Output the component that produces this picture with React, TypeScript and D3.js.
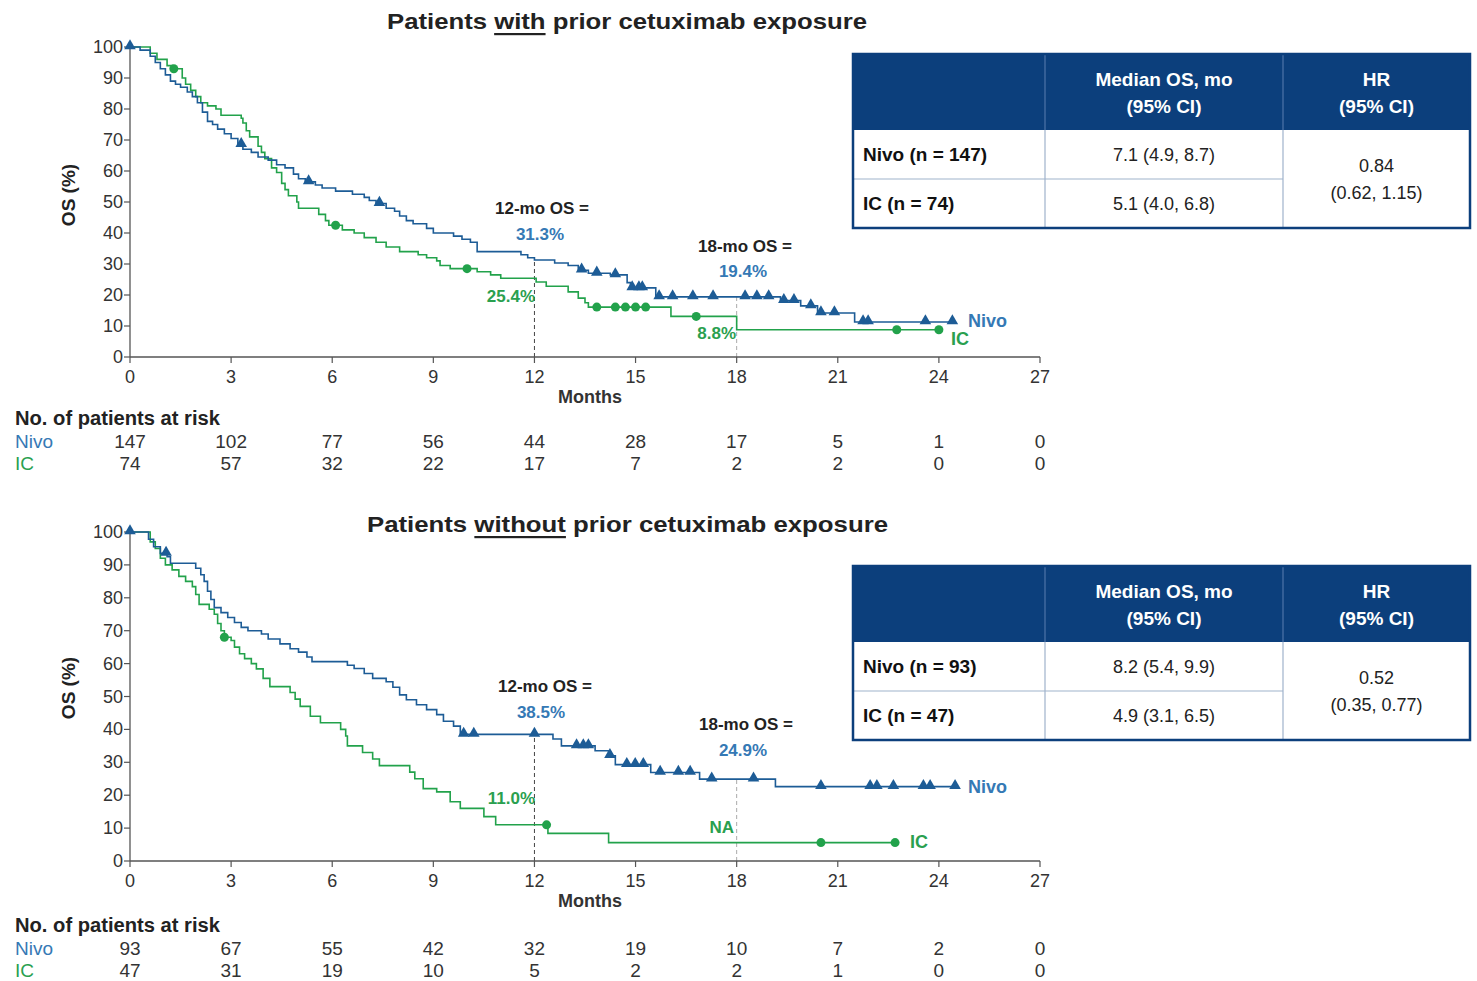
import React from "react";
import * as d3 from "d3";

// ---------------- DATA ----------------
const monthTicks = [0, 3, 6, 9, 12, 15, 18, 21, 24, 27];
const yTicks = [0, 10, 20, 30, 40, 50, 60, 70, 80, 90, 100];

// Top panel: with prior cetuximab
const topNivoSteps: [number, number][] = [
  [0, 100], [0.3, 99], [0.6, 97], [0.75, 95], [0.9, 93], [1.05, 91], [1.2, 89], [1.35, 88], [1.5, 87],
  [1.7, 85.5], [1.85, 84], [2.0, 82], [2.15, 79], [2.3, 76], [2.45, 75], [2.6, 73.5], [2.8, 72], [3.0, 70.5],
  [3.2, 68.5], [3.35, 67], [3.6, 66], [3.8, 64.5], [4.1, 63.5], [4.35, 62], [4.6, 61], [4.85, 59], [5.0, 57.5],
  [5.2, 56.5], [5.5, 55.5], [5.7, 54.5], [6.1, 53.5], [6.6, 52.5], [6.95, 51.5], [7.1, 50.5], [7.3, 49.5],
  [7.6, 48], [7.85, 47], [8.0, 45.5], [8.2, 44], [8.4, 43], [8.8, 41.5], [9.0, 40], [9.6, 39], [9.85, 38],
  [10.1, 37], [10.3, 34], [11.6, 33], [11.8, 32], [12.0, 31.3], [12.6, 30.3], [13.0, 29.5], [13.3, 28],
  [13.6, 27], [14.25, 26.5], [14.75, 24], [14.85, 22.3], [15.6, 19.4], [19.3, 18.2], [19.9, 16.5],
  [20.4, 14.2], [21.5, 11.3],
];
const topNivoEnd = 24.4;
const topNivoCensor = [0, 3.3, 5.3, 7.4, 13.4, 13.85, 14.4, 14.9, 15.1, 15.2, 15.7, 16.1, 16.7, 17.3, 18.25,
  18.6, 18.95, 19.4, 19.7, 20.2, 20.5, 20.9, 21.75, 21.9, 23.6, 24.4];

const topICSteps: [number, number][] = [
  [0, 100], [0.6, 98], [0.8, 96], [1.1, 94], [1.25, 93], [1.55, 90], [1.65, 88], [1.8, 86], [1.95, 84],
  [2.1, 82], [2.3, 81], [2.55, 80], [2.7, 78], [3.3, 77], [3.35, 75.5], [3.45, 73], [3.55, 71], [3.8, 68],
  [3.9, 66], [4.0, 64], [4.2, 61], [4.35, 59.5], [4.5, 56], [4.6, 54], [4.7, 52], [4.95, 50], [5.0, 48],
  [5.6, 46], [5.8, 44], [5.9, 42.5], [6.3, 41], [6.65, 40], [6.95, 38.5], [7.3, 37], [7.6, 35.5], [8.0, 34],
  [8.55, 33], [8.8, 32], [9.1, 31], [9.2, 29.5], [9.5, 28.5], [10.3, 27.5], [10.7, 26.5], [11.0, 25.4],
  [12.05, 24.2], [12.35, 22.8], [13.0, 21], [13.3, 19], [13.5, 17.5], [13.6, 16.1], [16.05, 13.1], [18.0, 8.8],
];
const topICEnd = 24.0;
const topICCensor = [1.3, 6.1, 10.0, 13.85, 14.4, 14.7, 15.0, 15.3, 16.8, 22.75, 24.0];

// Bottom panel: without prior cetuximab
const botNivoSteps: [number, number][] = [
  [0, 100], [0.55, 97.8], [0.7, 95.5], [0.9, 93.5], [1.1, 92.5], [1.2, 90.5], [1.95, 89], [2.1, 87],
  [2.2, 85], [2.3, 82], [2.4, 79.5], [2.5, 77], [2.7, 75.5], [2.9, 74], [3.1, 72.5], [3.3, 71], [3.5, 70],
  [3.9, 69], [4.1, 67.5], [4.45, 66], [4.75, 64.5], [5.0, 63.5], [5.25, 62], [5.4, 60.6], [6.45, 59.5],
  [6.65, 58.5], [6.95, 57], [7.2, 55.5], [7.6, 54.5], [7.8, 52.8], [8.0, 50.5], [8.2, 49], [8.5, 47.5],
  [8.8, 46], [9.1, 44.5], [9.3, 42.5], [9.6, 41], [9.8, 38.5], [12.55, 37.1], [12.8, 35], [13.8, 33.5],
  [14.2, 32], [14.4, 29.3], [15.45, 26.9], [16.9, 24.9], [19.15, 22.6],
];
const botNivoEnd = 24.5;
const botNivoCensor = [0, 1.07, 9.9, 10.2, 12.0, 13.25, 13.45, 13.6, 14.24, 14.74, 14.99, 15.23, 15.73,
  16.27, 16.62, 17.26, 18.5, 20.5, 21.96, 22.16, 22.65, 23.54, 23.74, 24.48];

const botICSteps: [number, number][] = [
  [0, 100], [0.6, 97], [0.75, 95], [0.9, 92], [1.05, 90], [1.25, 88.5], [1.45, 86.5], [1.65, 85],
  [1.85, 83.4], [1.95, 81], [2.05, 78], [2.35, 76.5], [2.5, 75], [2.6, 72.2], [2.7, 70], [2.8, 68],
  [3.0, 67], [3.1, 65], [3.25, 63], [3.4, 61.5], [3.6, 60], [3.75, 58.4], [3.95, 55.5], [4.15, 53],
  [4.75, 51.2], [4.9, 49.2], [5.05, 47], [5.35, 44], [5.65, 42], [6.25, 40], [6.4, 38], [6.45, 35],
  [6.9, 33], [7.2, 31], [7.4, 29], [8.3, 27], [8.45, 25], [8.7, 22], [9.1, 21], [9.5, 18], [9.8, 16],
  [10.5, 13.5], [10.85, 11.0], [12.4, 8.4], [14.2, 5.6],
];
const botICEnd = 22.7;
const botICCensor = [2.8, 12.36, 20.5, 22.7];

// Risk tables
const riskTopNivo = [147, 102, 77, 56, 44, 28, 17, 5, 1, 0];
const riskTopIC = [74, 57, 32, 22, 17, 7, 2, 2, 0, 0];
const riskBotNivo = [93, 67, 55, 42, 32, 19, 10, 7, 2, 0];
const riskBotIC = [47, 31, 19, 10, 5, 2, 2, 1, 0, 0];

// Summary tables
const tableHeader = [["", ""], ["Median OS, mo", "(95% CI)"], ["HR", "(95% CI)"]];
const topTableRows = [["Nivo (n = 147)", "7.1 (4.9, 8.7)"], ["IC (n = 74)", "5.1 (4.0, 6.8)"]];
const topHR = ["0.84", "(0.62, 1.15)"];
const botTableRows = [["Nivo (n = 93)", "8.2 (5.4, 9.9)"], ["IC (n = 47)", "4.9 (3.1, 6.5)"]];
const botHR = ["0.52", "(0.35, 0.77)"];

// Landmark annotations
const topLandmarks = { os12Nivo: "31.3%", os12IC: "25.4%", os18Nivo: "19.4%", os18IC: "8.8%" };
const botLandmarks = { os12Nivo: "38.5%", os12IC: "11.0%", os18Nivo: "24.9%", os18IC: "NA" };

// ---------------- STYLE ----------------
const NAVY = "#0c3f7c";
const BLUE_LINE = "#1d5c96";
const BLUE_TXT = "#3579b5";
const GREEN_LINE = "#22a24b";
const GREEN_TXT = "#2aa04f";
const AXIS = "#555";
const FONT = "'Liberation Sans', Arial, sans-serif";

function valueAt(steps: [number, number][], t: number) {
  let v = steps[0][1];
  for (const [st, sv] of steps) if (st <= t + 1e-9) v = sv;
  return v;
}

type PanelProps = {
  top: number; bottom: number; yLabelY: number;
  nivo: [number, number][]; nivoEnd: number; nivoCensor: number[];
  ic: [number, number][]; icEnd: number; icCensor: number[];
  lm: { os12Nivo: string; os12IC: string; os18Nivo: string; os18IC: string };
  labels: { l12: [number, number]; n12: [number, number]; ic12: [number, number]; l18: [number, number]; n18: [number, number]; ic18: [number, number]; nivoLab: [number, number]; icLab: [number, number] };
  riskNivo: number[]; riskIC: number[]; riskY: number;
};

function Panel(p: PanelProps) {
  const x = d3.scaleLinear().domain([0, 27]).range([130, 1040]);
  const y = d3.scaleLinear().domain([0, 100]).range([p.bottom, p.top]);
  const line = d3.line<[number, number]>().x(d => x(d[0])).y(d => y(d[1])).curve(d3.curveStepAfter);
  const nivoPts: [number, number][] = [...p.nivo, [p.nivoEnd, p.nivo[p.nivo.length - 1][1]]];
  const icPts: [number, number][] = [...p.ic, [p.icEnd, p.ic[p.ic.length - 1][1]]];
  const tri = d3.symbol().type(d3.symbolTriangle).size(58)();
  const y12 = y(valueAt(p.nivo, 12));
  const y18 = y(valueAt(p.nivo, 18));
  const L = p.labels;
  return (
    <g>
      <line x1={x(12)} x2={x(12)} y1={p.bottom} y2={y12} stroke="#444" strokeDasharray="4,3" strokeWidth={1} />
      <line x1={x(18)} x2={x(18)} y1={p.bottom} y2={y18} stroke="#aaa" strokeDasharray="4,3" strokeWidth={1} />
      <line x1={x(0)} x2={x(27)} y1={p.bottom} y2={p.bottom} stroke={AXIS} strokeWidth={1.3} />
      <line x1={x(0)} x2={x(0)} y1={p.bottom} y2={p.top} stroke={AXIS} strokeWidth={1.3} />
      {monthTicks.map(t => (
        <g key={"xt" + t}>
          <line x1={x(t)} x2={x(t)} y1={p.bottom} y2={p.bottom + 6} stroke={AXIS} strokeWidth={1.2} />
          <text x={x(t)} y={p.bottom + 20} textAnchor="middle" dominantBaseline="central" fontSize={18} fill="#333" fontFamily={FONT}>{t}</text>
        </g>
      ))}
      {yTicks.map(t => (
        <g key={"yt" + t}>
          <line x1={x(0) - 6} x2={x(0)} y1={y(t)} y2={y(t)} stroke={AXIS} strokeWidth={1.2} />
          <text x={x(0) - 7} y={y(t)} textAnchor="end" dominantBaseline="central" fontSize={18} fill="#333" fontFamily={FONT}>{t}</text>
        </g>
      ))}
      <text x={590} y={p.bottom + 40} textAnchor="middle" dominantBaseline="central" fontSize={18} fontWeight="bold" fill="#333" fontFamily={FONT}>Months</text>
      <text transform={`translate(68,${p.yLabelY}) rotate(-90)`} textAnchor="middle" dominantBaseline="central" fontSize={19} fontWeight="bold" fill="#222" fontFamily={FONT}>OS (%)</text>
      <path d={line(icPts) || ""} fill="none" stroke={GREEN_LINE} strokeWidth={1.6} />
      <path d={line(nivoPts) || ""} fill="none" stroke={BLUE_LINE} strokeWidth={1.6} />
      {p.icCensor.map((t, i) => (
        <circle key={"ic" + i} cx={x(t)} cy={y(valueAt(p.ic, t))} r={4.5} fill={GREEN_LINE} />
      ))}
      {p.nivoCensor.map((t, i) => (
        <path key={"nv" + i} d={tri || ""} transform={`translate(${x(t)},${y(valueAt(p.nivo, t)) - 1})`} fill={BLUE_LINE} />
      ))}
      <text x={L.l12[0]} y={L.l12[1]} textAnchor="middle" dominantBaseline="central" fontSize={17} fontWeight="bold" fill="#222" fontFamily={FONT}>12-mo OS =</text>
      <text x={L.n12[0]} y={L.n12[1]} textAnchor="middle" dominantBaseline="central" fontSize={17} fontWeight="bold" fill={BLUE_TXT} fontFamily={FONT}>{p.lm.os12Nivo}</text>
      <text x={L.ic12[0]} y={L.ic12[1]} textAnchor="end" dominantBaseline="central" fontSize={17} fontWeight="bold" fill={GREEN_TXT} fontFamily={FONT}>{p.lm.os12IC}</text>
      <text x={L.l18[0]} y={L.l18[1]} textAnchor="middle" dominantBaseline="central" fontSize={17} fontWeight="bold" fill="#222" fontFamily={FONT}>18-mo OS =</text>
      <text x={L.n18[0]} y={L.n18[1]} textAnchor="middle" dominantBaseline="central" fontSize={17} fontWeight="bold" fill={BLUE_TXT} fontFamily={FONT}>{p.lm.os18Nivo}</text>
      <text x={L.ic18[0]} y={L.ic18[1]} textAnchor="end" dominantBaseline="central" fontSize={17} fontWeight="bold" fill={GREEN_TXT} fontFamily={FONT}>{p.lm.os18IC}</text>
      <text x={L.nivoLab[0]} y={L.nivoLab[1]} dominantBaseline="central" fontSize={18} fontWeight="bold" fill={BLUE_TXT} fontFamily={FONT}>Nivo</text>
      <text x={L.icLab[0]} y={L.icLab[1]} dominantBaseline="central" fontSize={18} fontWeight="bold" fill={GREEN_TXT} fontFamily={FONT}>IC</text>
      <text x={15} y={p.riskY} dominantBaseline="central" fontSize={20} fontWeight="bold" fill="#222" fontFamily={FONT} textLength={205} lengthAdjust="spacingAndGlyphs">No. of patients at risk</text>
      <text x={15} y={p.riskY + 23} dominantBaseline="central" fontSize={19} fill={BLUE_TXT} fontFamily={FONT}>Nivo</text>
      <text x={15} y={p.riskY + 45} dominantBaseline="central" fontSize={19} fill={GREEN_TXT} fontFamily={FONT}>IC</text>
      {monthTicks.map((t, i) => (
        <g key={"rk" + t}>
          <text x={x(t)} y={p.riskY + 23} textAnchor="middle" dominantBaseline="central" fontSize={19} fill="#333" fontFamily={FONT}>{p.riskNivo[i]}</text>
          <text x={x(t)} y={p.riskY + 45} textAnchor="middle" dominantBaseline="central" fontSize={19} fill="#333" fontFamily={FONT}>{p.riskIC[i]}</text>
        </g>
      ))}
    </g>
  );
}

function SummaryTable({ top, rows, hr }: { top: number; rows: string[][]; hr: string[] }) {
  const x0 = 853, x1 = 1045, x2 = 1283, x3 = 1470;
  const hH = 76, rH = 49;
  const yH = top + hH, yR = yH + rH, yB = yR + rH;
  return (
    <g>
      <rect x={x0} y={top} width={x3 - x0} height={hH} fill={NAVY} />
      <line x1={x1} x2={x1} y1={top} y2={yH} stroke="#5a7fb0" strokeWidth={1} />
      <line x1={x2} x2={x2} y1={top} y2={yH} stroke="#5a7fb0" strokeWidth={1} />
      {tableHeader.map((h, i) => {
        const cx = i === 1 ? (x1 + x2) / 2 : (x2 + x3) / 2;
        if (i === 0) return null;
        return (
          <g key={"h" + i}>
            <text x={cx} y={top + 25} textAnchor="middle" dominantBaseline="central" fontSize={19} fontWeight="bold" fill="#fff" fontFamily={FONT}>{h[0]}</text>
            <text x={cx} y={top + 52} textAnchor="middle" dominantBaseline="central" fontSize={19} fontWeight="bold" fill="#fff" fontFamily={FONT}>{h[1]}</text>
          </g>
        );
      })}
      <line x1={x0} x2={x2} y1={yR} y2={yR} stroke="#9fb3cc" strokeWidth={1.2} />
      <line x1={x1} x2={x1} y1={yH} y2={yB} stroke="#9fb3cc" strokeWidth={1.2} />
      <line x1={x2} x2={x2} y1={yH} y2={yB} stroke="#9fb3cc" strokeWidth={1.2} />
      <rect x={x0} y={top} width={x3 - x0} height={yB - top} fill="none" stroke={NAVY} strokeWidth={2.5} />
      {rows.map((r, i) => (
        <g key={"r" + i}>
          <text x={x0 + 10} y={yH + rH * i + rH / 2} dominantBaseline="central" fontSize={19} fontWeight="bold" fill="#111" fontFamily={FONT}>{r[0]}</text>
          <text x={(x1 + x2) / 2} y={yH + rH * i + rH / 2} textAnchor="middle" dominantBaseline="central" fontSize={18} fill="#222" fontFamily={FONT}>{r[1]}</text>
        </g>
      ))}
      <text x={(x2 + x3) / 2} y={yH + rH - 13} textAnchor="middle" dominantBaseline="central" fontSize={18} fill="#222" fontFamily={FONT}>{hr[0]}</text>
      <text x={(x2 + x3) / 2} y={yH + rH + 14} textAnchor="middle" dominantBaseline="central" fontSize={18} fill="#222" fontFamily={FONT}>{hr[1]}</text>
    </g>
  );
}

export default function App() {
  return (
    <div style={{ position: "absolute", left: 0, top: 0 }}>
      <svg width={1477} height={981} style={{ display: "block", background: "#fff" }}>
        <text x={387} y={21} dominantBaseline="central" fontSize={22} fontWeight="bold" fill="#222" fontFamily={FONT} textLength={480} lengthAdjust="spacingAndGlyphs">
          <tspan>Patients </tspan><tspan style={{ textDecoration: "underline" }}>with</tspan><tspan> prior cetuximab exposure</tspan>
        </text>
        <text x={367} y={524} dominantBaseline="central" fontSize={22} fontWeight="bold" fill="#222" fontFamily={FONT} textLength={521} lengthAdjust="spacingAndGlyphs">
          <tspan>Patients </tspan><tspan style={{ textDecoration: "underline" }}>without</tspan><tspan> prior cetuximab exposure</tspan>
        </text>
        <Panel top={47} bottom={357} yLabelY={195}
          nivo={topNivoSteps} nivoEnd={topNivoEnd} nivoCensor={topNivoCensor}
          ic={topICSteps} icEnd={topICEnd} icCensor={topICCensor}
          lm={topLandmarks}
          labels={{ l12: [542, 208], n12: [540, 234], ic12: [535, 296], l18: [745, 246], n18: [743, 271], ic18: [736, 333], nivoLab: [968, 321], icLab: [951, 339] }}
          riskNivo={riskTopNivo} riskIC={riskTopIC} riskY={418} />
        <Panel top={532} bottom={861} yLabelY={688}
          nivo={botNivoSteps} nivoEnd={botNivoEnd} nivoCensor={botNivoCensor}
          ic={botICSteps} icEnd={botICEnd} icCensor={botICCensor}
          lm={botLandmarks}
          labels={{ l12: [545, 686], n12: [541, 712], ic12: [535, 798], l18: [746, 724], n18: [743, 750], ic18: [734, 827], nivoLab: [968, 787], icLab: [910, 842] }}
          riskNivo={riskBotNivo} riskIC={riskBotIC} riskY={925} />
        <SummaryTable top={54} rows={topTableRows} hr={topHR} />
        <SummaryTable top={566} rows={botTableRows} hr={botHR} />
      </svg>
    </div>
  );
}
